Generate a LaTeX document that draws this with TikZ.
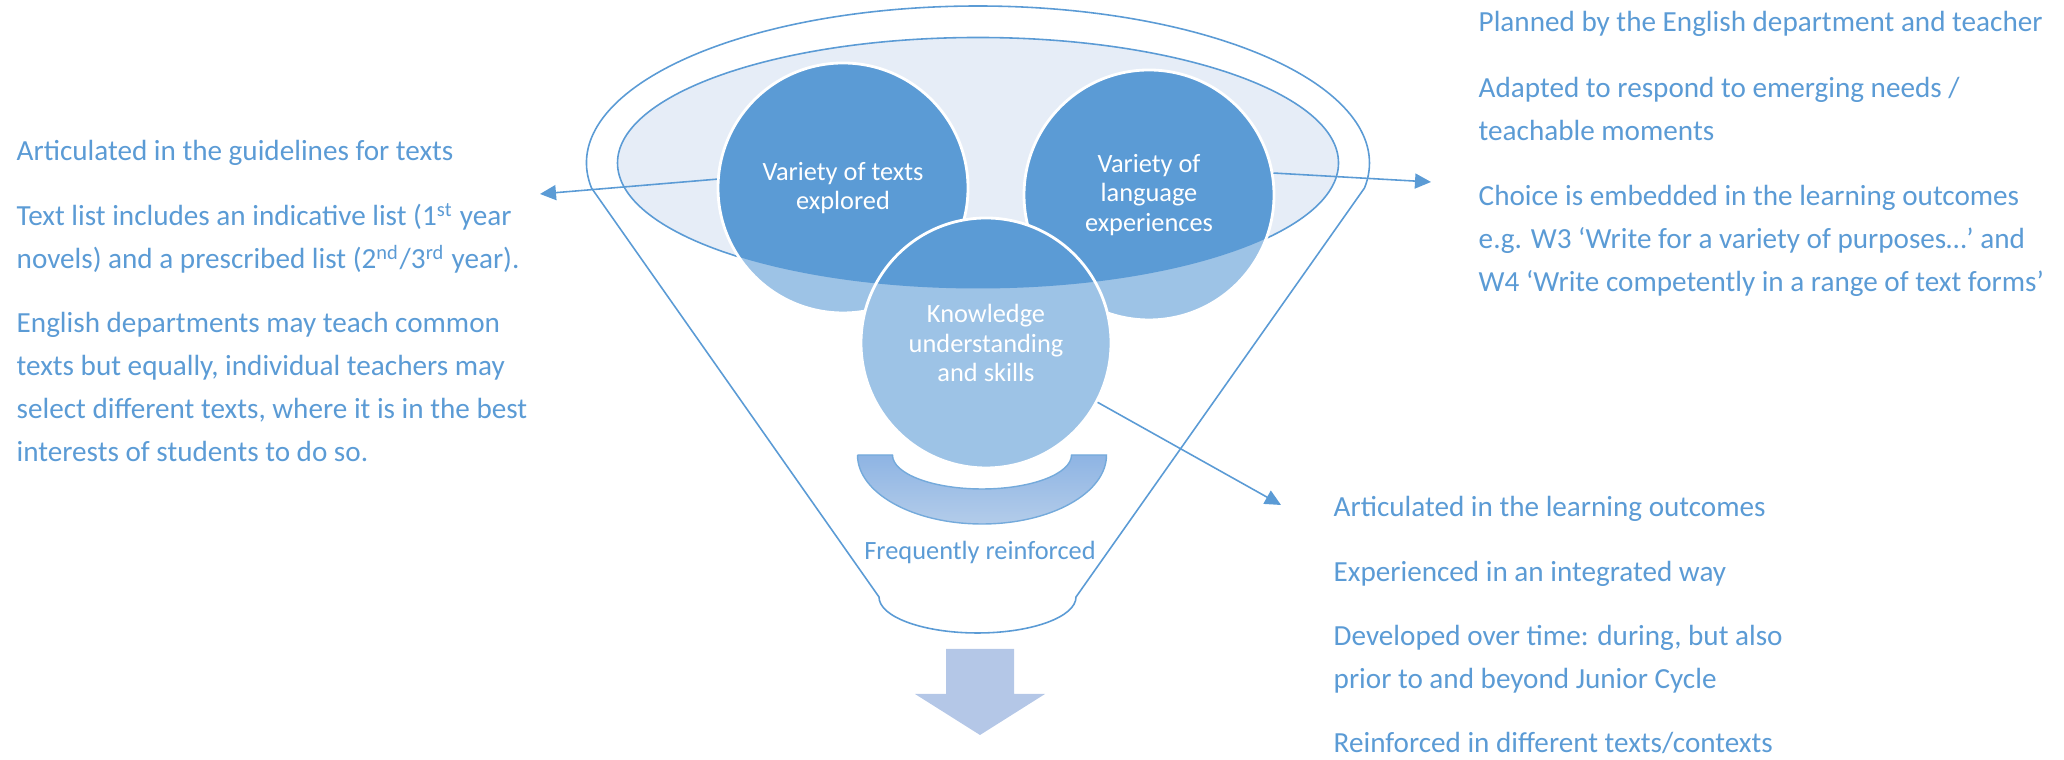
\documentclass[tikz,border=0pt]{standalone}
\usepackage{fontspec}
\setmainfont{Carlito}
\usepackage{tikz}
\usetikzlibrary{arrows.meta}
\definecolor{funnelblue}{HTML}{5B9BD5}
\definecolor{balldark}{HTML}{5B9BD5}
\definecolor{balllight}{HTML}{9DC3E6}
\definecolor{mouthfill}{HTML}{E6EDF7}
\definecolor{pipetop}{HTML}{8EB4E3}
\definecolor{pipebot}{HTML}{B3CCEA}
\definecolor{arrowfill}{HTML}{B4C7E7}

\begin{document}
\begin{tikzpicture}[
  line/.style={draw=funnelblue,line width=0.45pt},
  conn/.style={line,-{Triangle[length=0.16cm,width=0.15cm]}},
  ball/.style={circle,minimum size=2.5cm,inner sep=0pt,fill=balllight,draw=white,line width=0.8pt,
    text=white,align=center,font=\fontsize{7.5}{8.3}\selectfont,
    path picture={\fill[balldark] (mouth) ellipse [x radius=3.605,y radius=1.255];}},
  note/.style={anchor=base west,inner sep=0pt,align=left,text=funnelblue,font=\fontsize{8.3}{12.24}\selectfont}
]
\useasboundingbox (0,0) rectangle (20.64,7.60);
\coordinate (mouth) at (9.78,5.97);

% funnel body
\draw[line] (5.915,5.72) arc[start angle=189.16,end angle=-9.16,x radius=3.915,y radius=1.57]
  -- (10.76,1.63) arc[start angle=0,end angle=-180,x radius=0.985,y radius=0.36] -- cycle;
\draw[line,fill=mouthfill] (mouth) ellipse [x radius=3.605,y radius=1.255];

% balls in the funnel
\node[ball] (texts) at (8.43,5.72) {Variety of texts\\explored};
\node[ball] (lang) at (11.49,5.65) {Variety of\\language\\experiences};
\node[ball] (know) at (9.86,4.17) {Knowledge\\understanding\\and skills};

% filter and outlet
\draw[draw=funnelblue!85,line width=0.4pt,top color=pipetop,bottom color=pipebot]
  (8.575,3.05) -- (8.925,3.05) arc[start angle=180,end angle=360,x radius=0.895,y radius=0.34]
  -- (11.065,3.05) arc[start angle=0,end angle=-180,x radius=1.245,y radius=0.69] -- cycle;
\node[text=funnelblue,font=\fontsize{7.5}{9}\selectfont,anchor=base] (freq) at (9.80,2.00) {Frequently reinforced};
\fill[arrowfill] (9.46,1.11) -- (10.14,1.11) -- (10.14,0.66) -- (10.45,0.66) -- (9.80,0.25)
  -- (9.15,0.66) -- (9.46,0.66) -- cycle;

% notes (base = last line)
\node[note] (texts1) at (0.16,5.99) {Articulated in the guidelines for texts};
\node[note] (texts2) at (0.16,4.91) {Text list includes an indicative list (1\textsuperscript{st} year\\novels) and a prescribed list (2\textsuperscript{nd}/3\textsuperscript{rd} year).};
\node[note] (texts3) at (0.16,2.98) {English departments may teach common\\texts but equally, individual teachers may\\select different texts, where it is in the best\\interests of students to do so.};

\node[note] (lang1) at (14.78,7.28) {Planned by the English department and teacher};
\node[note] (lang2) at (14.78,6.19) {Adapted to respond to emerging needs /\\teachable moments};
\node[note] (lang3) at (14.78,4.68) {Choice is embedded in the learning outcomes\\e.g. W3 ‘Write for a variety of purposes…’ and\\W4 ‘Write competently in a range of text forms’};

\node[note] (know1) at (13.33,2.43) {Articulated in the learning outcomes};
\node[note] (know2) at (13.33,1.78) {Experienced in an integrated way};
\node[note] (know3) at (13.33,0.71) {Developed over time: during, but also\\prior to and beyond Junior Cycle};
\node[note] (know4) at (13.33,0.07) {Reinforced in different texts/contexts};

% arrows out
\coordinate (textsend) at (5.40,5.66);
\coordinate (langend) at (14.31,5.78);
\coordinate (knowend) at (12.81,2.55);
\draw[conn] (texts.176) -- (textsend);
\draw[conn] (lang.10) -- (langend);
\draw[conn] (know.-28) -- (knowend);
\end{tikzpicture}
\end{document}
